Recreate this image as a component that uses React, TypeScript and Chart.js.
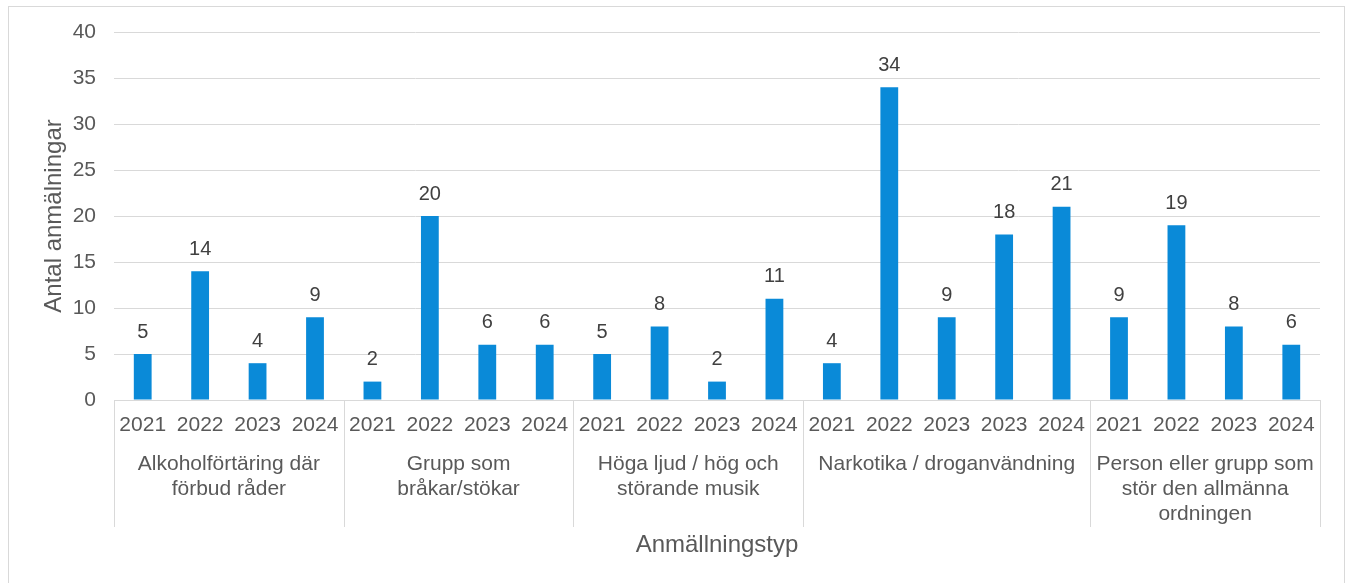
import React, { useEffect, useRef } from "react";
import { Chart, registerables } from "chart.js";

Chart.register(...registerables);

const years: string[] = [
  "2021", "2022", "2023", "2024",
  "2021", "2022", "2023", "2024",
  "2021", "2022", "2023", "2024",
  "2021", "2022", "2023", "2023", "2024",
  "2021", "2022", "2023", "2024",
];

const values: number[] = [
  5, 14, 4, 9,
  2, 20, 6, 6,
  5, 8, 2, 11,
  4, 34, 9, 18, 21,
  9, 19, 8, 6,
];

const groupSizes: number[] = [4, 4, 4, 5, 4];

const groupLabels: string[][] = [
  ["Alkoholförtäring där", "förbud råder"],
  ["Grupp som", "bråkar/stökar"],
  ["Höga ljud / hög och", "störande musik"],
  ["Narkotika / droganvändning"],
  ["Person eller grupp som", "stör den allmänna", "ordningen"],
];

const yTitle = "Antal anmälningar";
const xTitle = "Anmällningstyp";

const FONT = "'Liberation Sans', Arial, sans-serif";
const TEXT = "#595959";
const LINE = "#d9d9d9";
const BAR = "#0A8AD8";

const overlayPlugin = {
  id: "overlay",
  afterDatasetsDraw(chart: any) {
    const ctx = chart.ctx;
    const meta = chart.getDatasetMeta(0);
    ctx.save();
    ctx.font = `20px ${FONT}`;
    ctx.fillStyle = "#404040";
    ctx.textAlign = "center";
    ctx.textBaseline = "middle";
    meta.data.forEach((bar: any, i: number) => {
      ctx.fillText(String(values[i]), bar.x, bar.y - 22);
    });
    ctx.restore();
  },
  afterDraw(chart: any) {
    const ctx = chart.ctx;
    const area = chart.chartArea;
    const n = years.length;
    const cw = (area.right - area.left) / n;
    ctx.save();
    ctx.strokeStyle = LINE;
    ctx.lineWidth = 1;
    let idx = 0;
    const bounds: number[] = [0];
    groupSizes.forEach((s) => {
      idx += s;
      bounds.push(idx);
    });
    bounds.forEach((b) => {
      const x = Math.round(area.left + b * cw) + 0.5;
      ctx.beginPath();
      ctx.moveTo(x, area.bottom);
      ctx.lineTo(x, area.bottom + 127);
      ctx.stroke();
    });
    ctx.font = `21px ${FONT}`;
    ctx.fillStyle = TEXT;
    ctx.textAlign = "center";
    ctx.textBaseline = "middle";
    for (let g = 0; g < groupSizes.length; g++) {
      const cx = area.left + ((bounds[g] + bounds[g + 1]) / 2) * cw;
      groupLabels[g].forEach((line, li) => {
        ctx.fillText(line, cx, area.bottom + 64 + li * 25);
      });
    }
    ctx.restore();
  },
};

export default function App() {
  const ref = useRef<HTMLCanvasElement | null>(null);
  useEffect(() => {
    if (!ref.current) return;
    Chart.defaults.font.family = FONT;
    const chart = new Chart(ref.current, {
      type: "bar",
      data: {
        labels: years,
        datasets: [
          {
            data: values,
            backgroundColor: BAR,
            borderWidth: 0,
            barPercentage: 0.31,
            categoryPercentage: 1,
          },
        ],
      },
      options: {
        animation: false,
        responsive: false,
        layout: { padding: { top: 32, right: 28, left: 0, bottom: 0 } },
        plugins: { legend: { display: false }, tooltip: { enabled: false } },
        scales: {
          x: {
            grid: { display: false, drawTicks: false },
            border: { display: true, color: LINE },
            ticks: { color: TEXT, font: { size: 21 }, padding: 13, maxRotation: 0, autoSkip: false },
            title: { display: true, text: xTitle, color: TEXT, font: { size: 24 }, padding: { top: 0, bottom: 23 } },
            afterFit: (s: any) => { s.height = 183; },
          },
          y: {
            min: 0,
            max: 40,
            grid: { color: LINE, drawTicks: false },
            border: { display: false },
            ticks: { stepSize: 5, color: TEXT, font: { size: 21 }, padding: 18 },
            title: { display: true, text: yTitle, color: TEXT, font: { size: 24 }, padding: { top: 40, bottom: 0 } },
            afterFit: (s: any) => { s.width = 114; },
          },
        },
      },
      plugins: [overlayPlugin],
    });
    return () => chart.destroy();
  }, []);
  return (
    <div style={{ position: "fixed", left: 0, top: 0, width: 1348, height: 583, background: "#fff" }}>
      <canvas ref={ref} width={1348} height={583} style={{ position: "absolute", left: 0, top: 0 }} />
      <div
        style={{
          position: "absolute",
          left: 8,
          top: 6,
          width: 1335,
          height: 620,
          border: `1px solid ${LINE}`,
          pointerEvents: "none",
        }}
      />
    </div>
  );
}
